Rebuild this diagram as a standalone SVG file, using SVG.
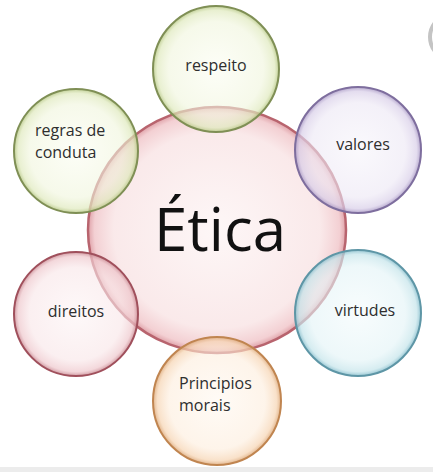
<svg xmlns="http://www.w3.org/2000/svg" width="433" height="472" viewBox="0 0 433 472">
<defs>
<radialGradient id="gPink" cx="50%" cy="50%" r="50%">
<stop offset="0" stop-color="#fdf4f4" stop-opacity="0.75"/>
<stop offset="0.8" stop-color="#f8e2e3" stop-opacity="0.75"/>
<stop offset="0.95" stop-color="#f0c4c8" stop-opacity="0.8"/>
<stop offset="1" stop-color="#d99098" stop-opacity="0.85"/>
</radialGradient>
<radialGradient id="gGreen" cx="50%" cy="50%" r="50%">
<stop offset="0" stop-color="#fbfdf2" stop-opacity="0.6"/>
<stop offset="0.75" stop-color="#f0f5dc" stop-opacity="0.6"/>
<stop offset="0.93" stop-color="#dfe9bd" stop-opacity="0.7"/>
<stop offset="1" stop-color="#b6c784" stop-opacity="0.85"/>
</radialGradient>
<radialGradient id="gPurple" cx="50%" cy="50%" r="50%">
<stop offset="0" stop-color="#f7f5fb" stop-opacity="0.6"/>
<stop offset="0.75" stop-color="#ece7f4" stop-opacity="0.6"/>
<stop offset="0.93" stop-color="#d8cee8" stop-opacity="0.7"/>
<stop offset="1" stop-color="#a898c4" stop-opacity="0.85"/>
</radialGradient>
<radialGradient id="gBlue" cx="50%" cy="50%" r="50%">
<stop offset="0" stop-color="#f3fbfc" stop-opacity="0.6"/>
<stop offset="0.75" stop-color="#e2f3f6" stop-opacity="0.6"/>
<stop offset="0.93" stop-color="#c4e4ea" stop-opacity="0.7"/>
<stop offset="1" stop-color="#84bccb" stop-opacity="0.85"/>
</radialGradient>
<radialGradient id="gRed" cx="50%" cy="50%" r="50%">
<stop offset="0" stop-color="#fdf4f5" stop-opacity="0.6"/>
<stop offset="0.75" stop-color="#f8e5e7" stop-opacity="0.6"/>
<stop offset="0.93" stop-color="#eec7cc" stop-opacity="0.7"/>
<stop offset="1" stop-color="#c98a93" stop-opacity="0.85"/>
</radialGradient>
<radialGradient id="gOrange" cx="50%" cy="50%" r="50%">
<stop offset="0" stop-color="#fff8f0" stop-opacity="0.6"/>
<stop offset="0.75" stop-color="#fdeddc" stop-opacity="0.6"/>
<stop offset="0.93" stop-color="#f6d4b2" stop-opacity="0.7"/>
<stop offset="1" stop-color="#dca878" stop-opacity="0.85"/>
</radialGradient>
</defs>
<style>
.lbl{font-family:"Open Sans","Liberation Sans",sans-serif;font-size:16px;fill:#2e2e2e}
.main{font-family:"Open Sans","Liberation Sans",sans-serif;font-size:60px;fill:#111}
.sat{stroke-width:2}
</style>
<rect x="0" y="0" width="433" height="472" fill="#ffffff"/>
<rect x="0" y="467" width="433" height="5" fill="#ececec"/>
<circle cx="453" cy="37" r="23" fill="none" stroke="#c4c4c4" stroke-width="4"/>
<g id="connectors"/>
<g id="etica">
<ellipse cx="217" cy="230" rx="129" ry="123" fill="url(#gPink)" stroke="#b8646e" stroke-width="2.5"/>
<text class="main" x="220" y="251" text-anchor="middle">Ética</text>
</g>
<g id="respeito">
<circle class="sat" cx="216" cy="69" r="63" fill="url(#gGreen)" stroke="#7f8f55"/>
<text class="lbl" x="216" y="71" text-anchor="middle">respeito</text>
</g>
<g id="regras">
<circle class="sat" cx="76" cy="151" r="62" fill="url(#gGreen)" stroke="#7f8f55"/>
<text class="lbl" x="35" y="136">regras de</text>
<text class="lbl" x="35" y="158">conduta</text>
</g>
<g id="valores">
<circle class="sat" cx="358" cy="150" r="63" fill="url(#gPurple)" stroke="#7e6e9e"/>
<text class="lbl" x="363" y="150" text-anchor="middle">valores</text>
</g>
<g id="direitos">
<circle class="sat" cx="76" cy="314" r="62" fill="url(#gRed)" stroke="#a0505c"/>
<text class="lbl" x="76" y="317" text-anchor="middle">direitos</text>
</g>
<g id="virtudes">
<circle class="sat" cx="358" cy="313" r="63" fill="url(#gBlue)" stroke="#5e96a6"/>
<text class="lbl" x="365" y="316" text-anchor="middle">virtudes</text>
</g>
<g id="principios">
<circle class="sat" cx="217" cy="401" r="64" fill="url(#gOrange)" stroke="#c08550"/>
<text class="lbl" x="179" y="389">Principios</text>
<text class="lbl" x="179" y="411">morais</text>
</g>
</svg>
